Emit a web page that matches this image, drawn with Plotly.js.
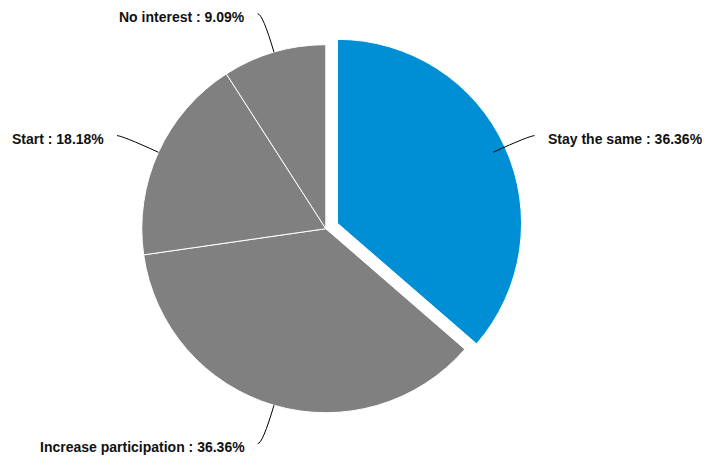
<!DOCTYPE html>
<html><head><meta charset="utf-8">
<script src="https://cdn.plot.ly/plotly-3.0.1.min.js"></script>
<style>html,body{margin:0;padding:0;background:#fff}#chart{width:704px;height:458px}</style>
</head><body><div id="chart"></div>
<script>
var labels = ['Stay the same', 'Increase participation', 'Start', 'No interest'];
var values = [36.36, 36.36, 18.18, 9.09];
var colors = ['#008fd5', '#808080', '#808080', '#808080'];
var pulls = [0.07, 0, 0, 0];

var W = 704, H = 458;
var domX = [0.18310, 0.74247], domY = [0.07074, 0.93057];
var maxPull = Math.max.apply(null, pulls);
var boxW = W * (domX[1] - domX[0]), boxH = H * (domY[1] - domY[0]);
var r = Math.min(boxW, boxH) / (2 + 2 * maxPull);
var cx = W * (domX[0] + domX[1]) / 2, cy = H * (1 - (domY[0] + domY[1]) / 2);
var total = values.reduce(function(a, b){ return a + b; }, 0);
var shapes = [], annotations = [];
var cum = 0;
function px(x){ return x / W; }
function py(y){ return 1 - y / H; }
values.forEach(function(v, i){
  var mid = (cum + v / 2) / total * 2 * Math.PI; cum += v;
  var dx = Math.sin(mid), dy = -Math.cos(mid);
  var sign = dx >= 0 ? 1 : -1;
  var ax = cx + r * dx, ay = cy + r * dy;
  var R2 = r + 40;
  var qx = cx + R2 * dx, qy = cy + R2 * dy;
  var ex = qx + sign * 5, ey = qy;
  shapes.push({
    type: 'path', xref: 'paper', yref: 'paper',
    path: 'M ' + px(ax) + ',' + py(ay) + ' Q ' + px(qx) + ',' + py(qy) + ' ' + px(ex) + ',' + py(ey),
    line: {color: '#000', width: 1}
  });
  annotations.push({
    xref: 'paper', yref: 'paper', showarrow: false,
    x: px(ex + sign * 11), y: py(ey + 3),
    xanchor: sign > 0 ? 'left' : 'right', yanchor: 'middle',
    text: '<b>' + labels[i] + ' : ' + v.toFixed(2) + '%</b>',
    font: {family: 'Liberation Sans, Arial, sans-serif', size: 14, color: '#111'}
  });
});

var data = [{
  type: 'pie', labels: labels, values: values, sort: false,
  direction: 'clockwise', rotation: 0, pull: pulls,
  marker: {colors: colors, line: {color: '#fff', width: 1}},
  textinfo: 'none', hoverinfo: 'label+percent',
  domain: {x: domX, y: domY}
}];
var layout = {
  width: W, height: H, margin: {l: 0, r: 0, t: 0, b: 0},
  showlegend: false, paper_bgcolor: '#fff',
  shapes: shapes, annotations: annotations
};
Plotly.newPlot('chart', data, layout, {displayModeBar: false, staticPlot: true});
</script>
</body></html>
